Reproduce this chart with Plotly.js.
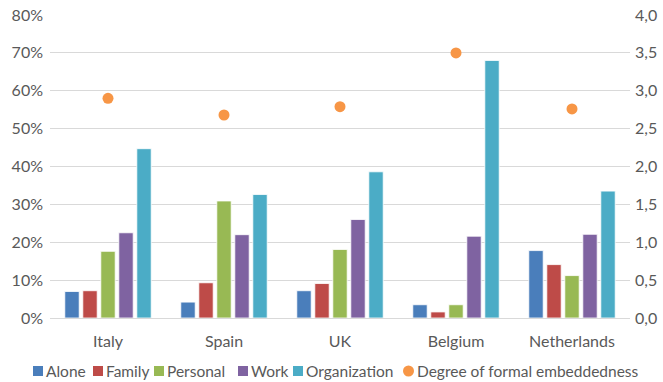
<!DOCTYPE html>
<html>
<head>
<meta charset="utf-8">
<script src="https://cdn.plot.ly/plotly-3.0.1.min.js"></script>
<style>
  html, body { margin: 0; padding: 0; background: #ffffff; }
  #chart { width: 663px; height: 382px; }
</style>
</head>
<body>
<div id="chart"></div>
<script>
// Countries on the category axis
const countries = ['Italy', 'Spain', 'UK', 'Belgium', 'Netherlands'];

// Share of each type of activity (fraction of respondents)
const alone        = [0.070, 0.042, 0.072, 0.035, 0.178];
const family       = [0.072, 0.093, 0.091, 0.016, 0.141];
const personal     = [0.176, 0.309, 0.181, 0.035, 0.112];
const work         = [0.225, 0.220, 0.260, 0.216, 0.221];
const organization = [0.447, 0.326, 0.386, 0.680, 0.335];

// Degree of formal embeddedness (secondary axis)
const embeddedness = [2.90, 2.68, 2.79, 3.50, 2.76];

const seriesNames  = ['Alone', 'Family', 'Personal', 'Work', 'Organization'];
const seriesValues = [alone, family, personal, work, organization];
const seriesColors = ['#4A7EBB', '#BE4B48', '#98B954', '#7F63A1', '#4BACC6'];
const dotName  = 'Degree of formal embeddedness';
const dotColor = '#F79646';

const fontFamily = 'Lato, "Open Sans", "Liberation Sans", sans-serif';
const fontSize = 16;
const legendFontSize = 15.5;
const textColor = '#595959';
const gridColor = '#D9D9D9';

// Plot area in pixels (used to place the hand-built legend row)
const W = 663, H = 382;
const M = { l: 50, r: 33, t: 15, b: 64 };
const plotW = W - M.l - M.r;
const plotH = H - M.t - M.b;
const px = x => (x - M.l) / plotW;
const py = y => (H - M.b - y) / plotH;

const traces = seriesNames.map((name, i) => ({
  type: 'bar',
  name: name,
  x: countries,
  y: seriesValues[i],
  marker: { color: seriesColors[i], line: { color: '#ffffff', width: 0.8 } }
}));

traces.push({
  type: 'scatter',
  mode: 'markers',
  name: dotName,
  x: countries,
  y: embeddedness,
  yaxis: 'y2',
  marker: { color: dotColor, size: 11 }
});

// Single-row legend below the axis: swatch left edge and label start (px)
const legendRowY = 371;
const legendItems = [
  { swatch: 33,  label: 46 },
  { swatch: 93,  label: 106 },
  { swatch: 154, label: 167 },
  { swatch: 238, label: 251 },
  { swatch: 293, label: 306 },
  { swatch: 403, label: 417 }
];
const sw = 10;

const shapes = [];
const annotations = [];
legendItems.forEach((item, i) => {
  const isDot = i === seriesNames.length;
  shapes.push({
    type: isDot ? 'circle' : 'rect',
    xref: 'paper', yref: 'paper',
    x0: px(item.swatch), x1: px(item.swatch + (isDot ? 11 : sw)),
    y0: py(legendRowY - (isDot ? 5.5 : sw / 2)), y1: py(legendRowY + (isDot ? 5.5 : sw / 2)),
    fillcolor: isDot ? dotColor : seriesColors[i],
    line: { width: 0 }
  });
  annotations.push({
    xref: 'paper', yref: 'paper',
    x: px(item.label), y: py(legendRowY),
    xanchor: 'left', yanchor: 'middle',
    borderpad: 0, borderwidth: 0,
    text: isDot ? dotName : seriesNames[i],
    showarrow: false,
    font: { family: fontFamily, size: legendFontSize, color: textColor }
  });
});

const layout = {
  width: W,
  height: H,
  margin: M,
  paper_bgcolor: '#ffffff',
  plot_bgcolor: '#ffffff',
  separators: ',.',
  font: { family: fontFamily, size: fontSize, color: textColor },
  barmode: 'group',
  bargap: 0.224,
  bargroupgap: 0.2,
  showlegend: false,
  shapes: shapes,
  annotations: annotations,
  xaxis: {
    type: 'category',
    showgrid: false,
    showline: false,
    ticks: '',
    ticklabelstandoff: 12,
    tickfont: { family: fontFamily, size: fontSize, color: textColor }
  },
  yaxis: {
    range: [0, 0.8],
    tick0: 0,
    dtick: 0.1,
    tickformat: '.0%',
    showgrid: true,
    gridcolor: gridColor,
    gridwidth: 1,
    zeroline: true,
    zerolinecolor: gridColor,
    zerolinewidth: 1,
    showline: false,
    ticks: '',
    ticklabelstandoff: 6,
    tickfont: { family: fontFamily, size: fontSize, color: textColor }
  },
  yaxis2: {
    overlaying: 'y',
    side: 'right',
    range: [0, 4],
    tick0: 0,
    dtick: 0.5,
    tickformat: '.1f',
    showgrid: false,
    zeroline: false,
    showline: false,
    ticks: '',
    ticklabelstandoff: 4,
    tickfont: { family: fontFamily, size: fontSize, color: textColor }
  }
};

Plotly.newPlot('chart', traces, layout, { displayModeBar: false, staticPlot: true });
</script>
</body>
</html>
